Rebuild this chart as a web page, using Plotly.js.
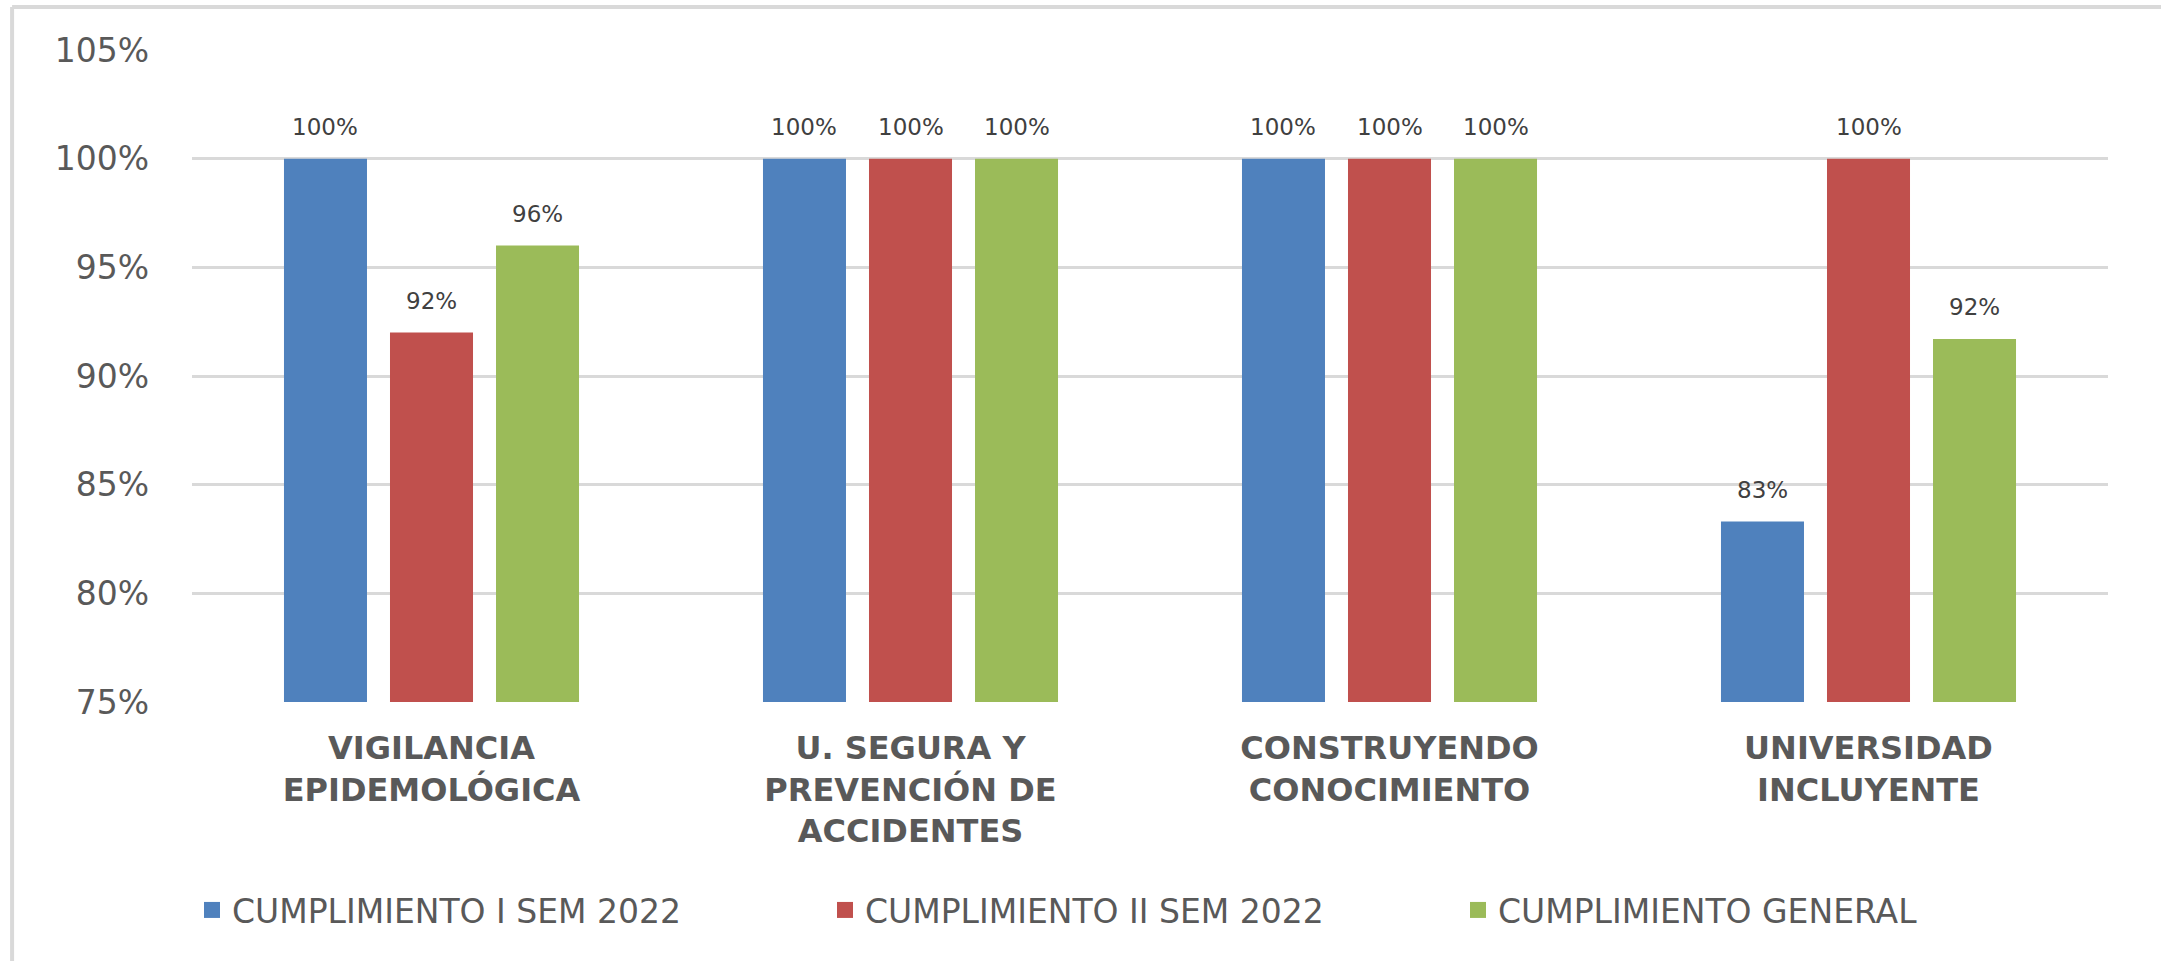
<!DOCTYPE html>
<html>
<head>
<meta charset="utf-8">
<script src="https://cdn.plot.ly/plotly-3.0.1.min.js"></script>
<style>html,body{margin:0;padding:0;background:#fff;}#chart{width:2161px;height:961px;}</style>
</head>
<body>
<div id="chart"></div>
<script>
const categories = [
  "VIGILANCIA<br>EPIDEMOLÓGICA",
  "U. SEGURA Y<br>PREVENCIÓN DE<br>ACCIDENTES",
  "CONSTRUYENDO<br>CONOCIMIENTO",
  "UNIVERSIDAD<br>INCLUYENTE"
];
const seriesNames = ["CUMPLIMIENTO I SEM 2022", "CUMPLIMIENTO II SEM 2022", "CUMPLIMIENTO GENERAL"];
const sem1 = [1.00, 1.00, 1.00, 0.833];
const sem2 = [0.92, 1.00, 1.00, 1.00];
const general = [0.96, 1.00, 1.00, 0.917];
const colors = ["#4F81BD", "#C0504D", "#9BBB59"];
const yTicks = [0.75, 0.80, 0.85, 0.90, 0.95, 1.00, 1.05];

const W = 2161, H = 961;
const margin = {l: 192, r: 53, t: 50, b: 259};
const bargap = 0.336, bargroupgap = 0.217;

const allSeries = [sem1, sem2, general];
const barTraces = allSeries.map((vals, i) => ({
  type: "bar",
  name: seriesNames[i],
  x: categories,
  y: vals,
  marker: {color: colors[i]},
  showlegend: false,
  hoverinfo: "none"
}));
// legend entries (larger square swatches, as in the original)
const legendTraces = allSeries.map((vals, i) => ({
  type: "scatter",
  mode: "markers",
  name: seriesNames[i],
  x: [null],
  y: [null],
  marker: {color: colors[i], symbol: "square", size: 16},
  hoverinfo: "none"
}));

// data labels: placed above each bar, offset to each bar's slot in the group
const plotW = W - margin.l - margin.r;
const slot = plotW / categories.length * (1 - bargap) / allSeries.length;
const annotations = [];
allSeries.forEach((vals, i) => {
  vals.forEach((v, j) => {
    annotations.push({
      x: categories[j], y: v, xref: "x", yref: "y",
      text: Math.round(v * 100) + "%",
      showarrow: false,
      xanchor: "center", yanchor: "bottom",
      xshift: (i - (allSeries.length - 1) / 2) * slot,
      yshift: 17,
      font: {family: "DejaVu Sans", size: 23, color: "#404040"}
    });
  });
});

const layout = {
  width: W,
  height: H,
  margin: margin,
  paper_bgcolor: "#ffffff",
  plot_bgcolor: "#ffffff",
  barmode: "group",
  bargap: bargap,
  bargroupgap: bargroupgap,
  showlegend: true,
  legend: {
    orientation: "h",
    x: 0.0,
    xanchor: "left",
    y: -0.319,
    yanchor: "middle",
    font: {family: "DejaVu Sans", size: 33, color: "#595959"},
    entrywidth: 588,
    entrywidthmode: "pixels",
    itemwidth: 30,
    traceorder: "normal"
  },
  xaxis: {
    type: "category",
    categoryorder: "array",
    categoryarray: categories,
    showgrid: false,
    showline: false,
    zeroline: false,
    ticks: "",
    ticklabelstandoff: 24,
    tickfont: {family: "DejaVu Sans", size: 32, color: "#595959", weight: "bold"}
  },
  yaxis: {
    range: [0.75, 1.05],
    tickvals: yTicks,
    tickformat: ".0%",
    showgrid: true,
    gridcolor: "#d9d9d9",
    gridwidth: 3,
    zeroline: false,
    showline: false,
    ticks: "",
    ticklabelstandoff: 42,
    tickfont: {family: "DejaVu Sans", size: 33, color: "#595959"}
  },
  annotations: annotations,
  shapes: [
    {type: "line", xref: "paper", yref: "paper", x0: -0.0939, x1: 1.03, y0: 1.066, y1: 1.066,
     line: {color: "#d9d9d9", width: 4}},
    {type: "line", xref: "paper", yref: "paper", x0: -0.0939, x1: -0.0939, y0: 1.066, y1: -0.4,
     line: {color: "#d9d9d9", width: 4}}
  ]
};

Plotly.newPlot("chart", barTraces.concat(legendTraces), layout, {displayModeBar: false, responsive: false});
</script>
</body>
</html>
